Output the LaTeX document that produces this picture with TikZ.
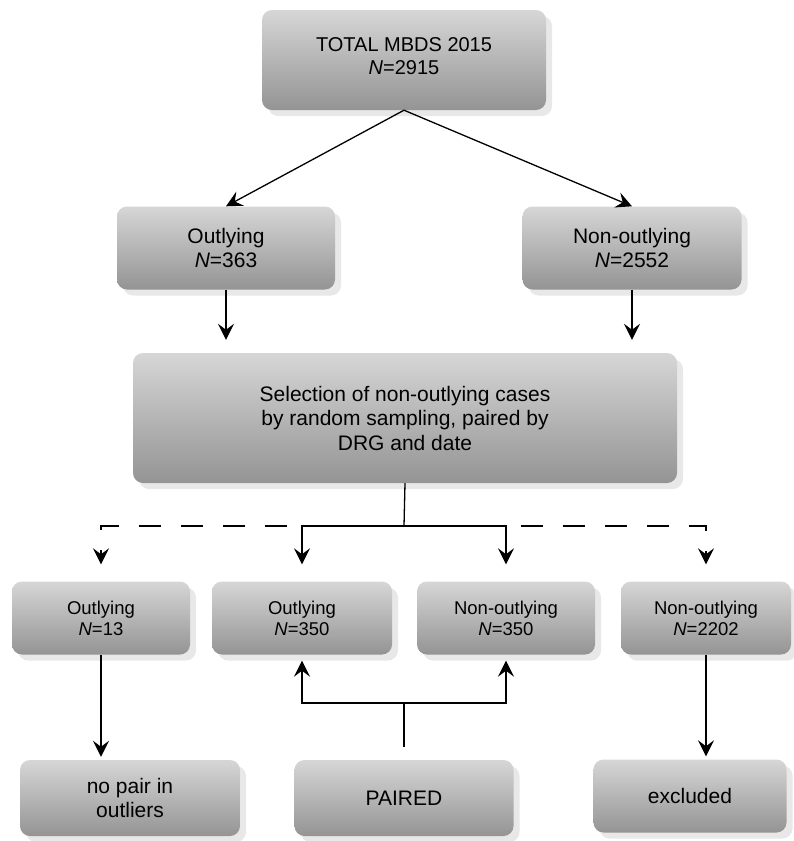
\documentclass[tikz,border=0pt]{standalone}
\usepackage{fontspec}
\setmainfont{Liberation Sans}
\usetikzlibrary{arrows.meta,shadows}
\tikzset{
  flowbox/.style={rounded corners=10pt,top color=black!16,bottom color=black!42,
    drop shadow={shadow xshift=6pt,shadow yshift=-6pt,fill=black!9,opacity=1},
    align=center,inner sep=2pt,font=\fontsize{21}{24.5}\selectfont},
  smallbox/.style={flowbox,font=\fontsize{18.5}{21}\selectfont},
  link/.style={-{Stealth[length=16pt,width=16pt,inset=6pt]},line width=1.3pt},
  dashlink/.style={link,dash pattern=on 22pt off 20pt,dash phase=27pt}
}
\begin{document}
\begin{tikzpicture}[x=1pt,y=-1pt]
    \useasboundingbox (0,0) rectangle (793,841);
    \node[flowbox,minimum width=284pt,minimum height=100pt,font=\fontsize{20}{23}\selectfont] (tot) at (404,60) {TOTAL MBDS 2015\\\textit{N}=2915\\[-15pt]};
    \node[flowbox,minimum width=218pt,minimum height=83pt] (out) at (226,248) {Outlying\\\textit{N}=363};
    \node[flowbox,minimum width=219pt,minimum height=83pt] (non) at (632,248) {Non-outlying\\\textit{N}=2552};
    \node[flowbox,minimum width=544pt,minimum height=130pt] (sel) at (405,418) {Selection of non-outlying cases\\by random sampling, paired by\\DRG and date};
    \node[smallbox,minimum width=178pt,minimum height=73pt] (o13) at (101,618) {Outlying\\\textit{N}=13};
    \node[smallbox,minimum width=180pt,minimum height=73pt] (o350) at (302,618) {Outlying\\\textit{N}=350};
    \node[smallbox,minimum width=178pt,minimum height=73pt] (n350) at (506,618) {Non-outlying\\\textit{N}=350};
    \node[smallbox,minimum width=170pt,minimum height=73pt] (n2202) at (706,618) {Non-outlying\\\textit{N}=2202};
    \node[flowbox,minimum width=220pt,minimum height=76pt] (nop) at (130,798) {no pair in\\outliers};
    \node[flowbox,minimum width=219pt,minimum height=76pt] (pair) at (404,798) {PAIRED};
    \node[flowbox,minimum width=193pt,minimum height=73pt] (exc) at (690,796) {excluded};
    \coordinate (fork) at (404,526);
    \coordinate (join) at (404,703);
    \draw[link] (tot.south) -- (out.north);
    \draw[link] (tot.south) -- (non.north);
    \draw[link] (out.south) -- ([yshift=13pt]sel.north -| out.south);
    \draw[link] (non.south) -- ([yshift=13pt]sel.north -| non.south);
    \draw[line width=1.3pt] (sel.south) -- (fork);
    \draw[link] (fork) -| ([yshift=17pt]o350.north);
    \draw[link] (fork) -| ([yshift=17pt]n350.north);
    \draw[dashlink] (fork -| o350.north) -| ([yshift=17pt]o13.north);
    \draw[dashlink] (fork -| n350.north) -| ([yshift=17pt]n2202.north);
    \draw[link] (o13.south) -- ([yshift=3pt]nop.north -| o13.south);
    \draw[link] (n2202.south) -- ([yshift=3pt]exc.north -| n2202.south);
    \draw[line width=1.3pt] ([yshift=13pt]pair.north) -- (join);
    \draw[link] (join) -| ([yshift=-6pt]o350.south);
    \draw[link] (join) -| ([yshift=-6pt]n350.south);
\end{tikzpicture}
\end{document}
